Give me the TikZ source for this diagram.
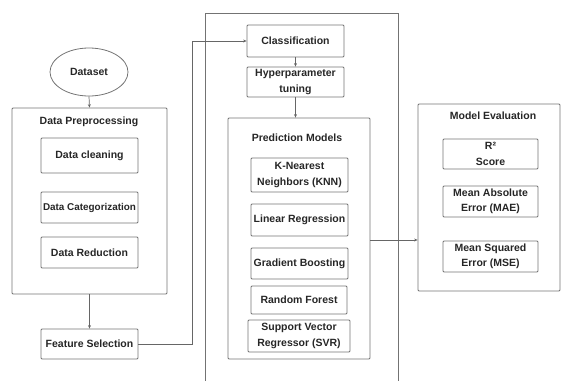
\documentclass[tikz,border=0pt]{standalone}
\usepackage{fontspec}
\setmainfont{Liberation Sans}
\usetikzlibrary{shapes.geometric,arrows.meta}
\begin{document}
\begin{tikzpicture}[x=1pt,y=-1pt,
  lbl/.style={text=black!85,font=\fontsize{10.5}{15.5}\selectfont\bfseries,inner sep=0pt},
  box/.style={lbl,draw=black!55,line width=0.8pt,rounded corners=1pt,align=center,minimum width=97pt},
  frame/.style={draw=black!55,line width=0.8pt,rounded corners=1pt,inner sep=0pt},
  conn/.style={draw=black!60,line width=0.7pt},
  arr/.style={conn,-{Stealth[length=3.5pt,width=3pt]}}]
\useasboundingbox (0,0) rectangle (561,380);
% dataset
\node[lbl,draw=black!55,line width=0.8pt,ellipse,minimum width=78pt,minimum height=48pt] (dataset) at (89,72) {Dataset};
% data preprocessing
\node[frame,minimum width=155pt,minimum height=186pt] (prep) at (89.5,201) {};
\node[lbl] (preptitle) at (89,122) {Data Preprocessing};
\node[box,minimum height=35pt] (clean) at (89.5,155.5) {Data cleaning};
\node[box,minimum height=31pt,font=\fontsize{9.9}{14}\selectfont\bfseries] (categ) at (89.5,207.5) {Data Categorization};
\node[box,minimum height=31pt] (reduct) at (89.5,252.5) {Data Reduction};
\node[box,minimum height=30pt] (feat) at (89.5,344) {Feature Selection};
% middle frame
\coordinate (mbl) at (205,381);
\coordinate (mtl) at (205,13);
\coordinate (mtr) at (398,13);
\coordinate (mbr) at (398,381);
\draw[frame,rounded corners=0pt] (mbl) -- (mtl) -- (mtr) -- (mbr);
\node[box,minimum height=32pt] (class) at (295.5,41) {Classification};
\node[box,minimum height=30pt] (hyper) at (295.5,82) {Hyperparameter\\tuning};
\node[frame,minimum width=142pt,minimum height=241pt] (pred) at (299,238.5) {};
\node[lbl] (predtitle) at (297,138) {Prediction Models};
\node[box,minimum height=34pt] (knn) at (299.5,175) {K-Nearest\\Neighbors (KNN)};
\node[box,minimum height=32pt] (linreg) at (299.5,220) {Linear Regression};
\node[box,minimum height=31pt] (gb) at (299.5,263.5) {Gradient Boosting};
\node[box,minimum height=28pt,minimum width=96pt] (rf) at (299,300) {Random Forest};
\node[box,minimum height=32pt,minimum width=102pt] (svr) at (299,336) {Support Vector\\Regressor (SVR)};
% model evaluation
\node[frame,minimum width=142pt,minimum height=187pt] (eval) at (489,197.5) {};
\node[lbl] (evaltitle) at (493,116) {Model Evaluation};
\node[box,minimum height=30pt,minimum width=95pt] (r2) at (490.5,154) {R²\\Score};
\node[box,minimum height=31pt,minimum width=95pt] (mae) at (490.5,201.5) {Mean Absolute\\Error (MAE)};
\node[box,minimum height=31pt,minimum width=95pt] (mse) at (490.5,256.5) {Mean Squared\\Error (MSE)};
% connectors
\draw[arr] (dataset.south) -- (prep.north);
\draw[arr] (prep.south) -- (feat.north);
\coordinate (fturn) at (192,344);
\draw[arr] (feat.east) -- (fturn) |- (class.west);
\draw[arr] (class.south) -- (hyper.north);
\draw[arr] (hyper.south) -- (hyper.south |- pred.north);
\coordinate (pout) at (370,240);
\draw[arr] (pout) -- (pout -| eval.west);
\end{tikzpicture}
\end{document}
